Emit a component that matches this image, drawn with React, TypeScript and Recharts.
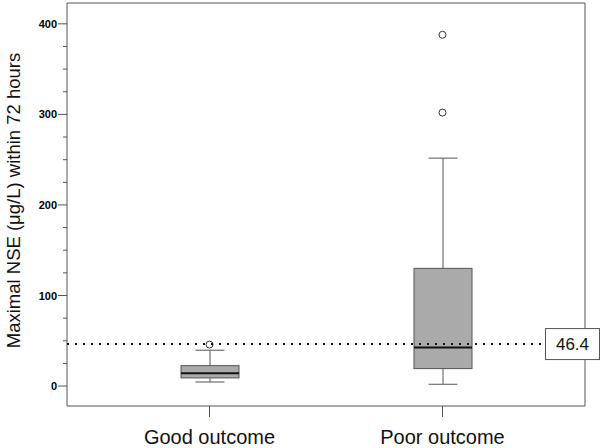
import { Bar, ComposedChart, Line, ReferenceLine, XAxis, YAxis } from "recharts";

// box plot of max NSE by outcome group
const categories = ["Good outcome", "Poor outcome"];
const whiskerLow = [4.5, 2];
const q1 = [9, 19.3];
const median = [14.2, 42.5];
const q3 = [22.6, 130];
const whiskerHigh = [39.6, 251.7];
const outlierA = [45.8, 387.9];
const outlierB: (number | null)[] = [null, 302];
const yTicks = [0, 25, 50, 75, 100, 125, 150, 175, 200, 225, 250, 275, 300, 325, 350, 375, 400];
const yDomain = [-22, 423];
const cutoff = 46.4;

const data = categories.map((name, i) => ({
  name,
  box: [q1[i], q3[i]],
  low: whiskerLow[i],
  med: median[i],
  high: whiskerHigh[i],
  outA: outlierA[i],
  outB: outlierB[i],
}));

const FONT = "'Liberation Sans', Arial, sans-serif";
const LINE = "#555";
const PAD = { left: 26, right: 26 };

function BoxShape(props: any) {
  const { x, y, width, height, payload } = props;
  const top = Math.min(y, y + height);
  const h = Math.abs(height);
  const [lo, hi] = payload.box;
  const ppu = h / (hi - lo);
  const py = (v: number) => top + (hi - v) * ppu;
  const cx = x + width / 2;
  const cap = width / 4;
  return (
    <g>
      <line x1={cx} x2={cx} y1={py(payload.high)} y2={top} stroke={LINE} />
      <line x1={cx} x2={cx} y1={top + h} y2={py(payload.low)} stroke={LINE} />
      <line x1={cx - cap} x2={cx + cap} y1={py(payload.high)} y2={py(payload.high)} stroke={LINE} />
      <line x1={cx - cap} x2={cx + cap} y1={py(payload.low)} y2={py(payload.low)} stroke={LINE} />
      <rect x={x} y={top} width={width} height={h} fill="#aaaaaa" stroke={LINE} />
      <line x1={x} x2={x + width} y1={py(payload.med)} y2={py(payload.med)} stroke="#111" strokeWidth={2} />
    </g>
  );
}

function OutlierDot(props: any) {
  const { cx, cy, value, index } = props;
  if (value == null || cy == null || isNaN(cy)) return <g key={index} />;
  return <circle key={index} cx={cx} cy={cy} r={3.5} fill="#fff" stroke="#333" strokeWidth={1} />;
}

function YTick(props: any) {
  const { x, y, payload } = props;
  const major = payload.value % 100 === 0;
  if (!major) {
    return <line x1={x - 4} x2={x} y1={y} y2={y} stroke={LINE} />;
  }
  return (
    <g>
      <line x1={x - 9} x2={x} y1={y} y2={y} stroke={LINE} />
      <text x={x - 10} y={y} dy={4} textAnchor="end" fontFamily={FONT} fontWeight="bold" fontSize={11} fill="#000">
        {payload.value}
      </text>
    </g>
  );
}

function XTick(props: any) {
  const { x, y, payload } = props;
  return (
    <text x={x} y={y + 27} textAnchor="middle" fontFamily={FONT} fontSize={20} fill="#111">
      {payload.value}
    </text>
  );
}

function YLabel(props: any) {
  const { viewBox } = props;
  const cx = viewBox.x + 20;
  const cy = viewBox.y + viewBox.height / 2 - 4;
  return (
    <text x={cx} y={cy} transform={`rotate(-90, ${cx}, ${cy})`} textAnchor="middle" fontFamily={FONT} fontSize={18.5} fill="#111">
      Maximal NSE (μg/L) within 72 hours
    </text>
  );
}

function CutoffLabel(props: any) {
  const { viewBox } = props;
  const bx = viewBox.x + viewBox.width - 39.5;
  const by = viewBox.y;
  return (
    <g>
      <rect x={bx} y={by - 15.5} width={54} height={31} fill="#fff" stroke={LINE} />
      <text x={bx + 27} y={by} dy={6} textAnchor="middle" fontFamily={FONT} fontSize={17} fill="#111">
        {cutoff}
      </text>
    </g>
  );
}

export default function App() {
  return (
    <div style={{ width: 602, height: 448, background: "#fff" }}>
      <style>{`body{margin:0}`}</style>
      <ComposedChart width={602} height={448} data={data} margin={{ top: 2, right: 16, bottom: 0, left: 0 }}>
        <XAxis
          dataKey="name"
          height={42}
          padding={PAD}
          stroke={LINE}
          tickSize={11}
          tickMargin={0}
          tick={<XTick />}
        />
        <XAxis
          xAxisId="top"
          dataKey="name"
          orientation="top"
          height={1}
          padding={PAD}
          tick={false}
          tickLine={false}
          stroke={LINE}
        />
        <YAxis
          width={67}
          domain={yDomain}
          ticks={yTicks}
          interval={0}
          allowDataOverflow
          stroke={LINE}
          tickSize={0}
          tickMargin={0}
          tickLine={false}
          tick={<YTick />}
          label={{ content: <YLabel /> }}
        />
        <YAxis
          yAxisId="right"
          orientation="right"
          width={1}
          domain={yDomain}
          allowDataOverflow
          tick={false}
          tickLine={false}
          stroke={LINE}
        />
        <Bar dataKey="box" barSize={58} shape={<BoxShape />} isAnimationActive={false} />
        <Line dataKey="outA" stroke="none" dot={OutlierDot} activeDot={false} isAnimationActive={false} />
        <Line
          dataKey="outB"
          xAxisId="top"
          yAxisId="right"
          stroke="none"
          dot={OutlierDot}
          activeDot={false}
          isAnimationActive={false}
        />
        <ReferenceLine
          y={cutoff}
          stroke="#111"
          strokeWidth={2}
          strokeDasharray="2 6"
          zIndex={2000}
          label={{ content: <CutoffLabel />, zIndex: 2000 } as any}
        />
      </ComposedChart>
    </div>
  );
}
